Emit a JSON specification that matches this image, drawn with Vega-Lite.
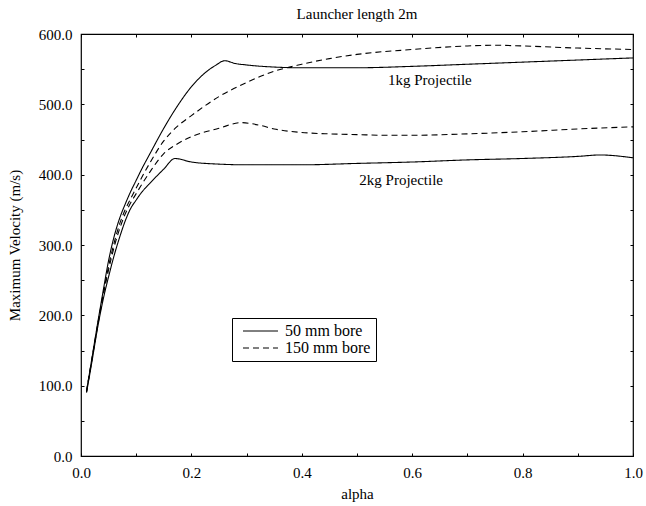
{
  "$schema": "https://vega.github.io/schema/vega-lite/v6.json",
  "width": 552,
  "height": 422,
  "autosize": {"type": "none"},
  "padding": {"left": 81, "top": 34, "right": 13, "bottom": 50},
  "background": "white",
  "title": {
    "text": "Launcher length 2m",
    "font": "Liberation Serif",
    "fontSize": 15,
    "fontWeight": "normal",
    "color": "black",
    "offset": 5
  },
  "config": {
    "view": {"stroke": "black", "strokeWidth": 1.2},
    "font": "Liberation Serif",
    "axis": {
      "domain": false,
      "grid": false,
      "ticks": true,
      "labelFont": "Liberation Serif",
      "labelFontSize": 15,
      "labelColor": "black",
      "tickColor": "black",
      "tickWidth": 1,
      "tickSize": -3,
      "titleFont": "Liberation Serif",
      "titleFontSize": 15,
      "titleFontWeight": "normal",
      "titleColor": "black"
    },
    "legend": {
      "labelFont": "Liberation Serif",
      "labelFontSize": 16,
      "labelColor": "black"
    }
  },
  "datasets": {
    "curves": [
      {"mass": "1kg", "bore": "50 mm bore", "alpha": 0.01, "velocity": 92},
      {"mass": "1kg", "bore": "50 mm bore", "alpha": 0.02, "velocity": 140},
      {"mass": "1kg", "bore": "50 mm bore", "alpha": 0.03, "velocity": 188},
      {"mass": "1kg", "bore": "50 mm bore", "alpha": 0.04, "velocity": 234},
      {"mass": "1kg", "bore": "50 mm bore", "alpha": 0.05, "velocity": 278},
      {"mass": "1kg", "bore": "50 mm bore", "alpha": 0.06, "velocity": 312},
      {"mass": "1kg", "bore": "50 mm bore", "alpha": 0.07, "velocity": 338},
      {"mass": "1kg", "bore": "50 mm bore", "alpha": 0.08, "velocity": 358},
      {"mass": "1kg", "bore": "50 mm bore", "alpha": 0.09, "velocity": 376},
      {"mass": "1kg", "bore": "50 mm bore", "alpha": 0.1, "velocity": 392},
      {"mass": "1kg", "bore": "50 mm bore", "alpha": 0.11, "velocity": 408},
      {"mass": "1kg", "bore": "50 mm bore", "alpha": 0.125, "velocity": 430},
      {"mass": "1kg", "bore": "50 mm bore", "alpha": 0.15, "velocity": 466},
      {"mass": "1kg", "bore": "50 mm bore", "alpha": 0.175, "velocity": 498},
      {"mass": "1kg", "bore": "50 mm bore", "alpha": 0.2, "velocity": 525},
      {"mass": "1kg", "bore": "50 mm bore", "alpha": 0.225, "velocity": 545},
      {"mass": "1kg", "bore": "50 mm bore", "alpha": 0.245, "velocity": 556},
      {"mass": "1kg", "bore": "50 mm bore", "alpha": 0.26, "velocity": 562},
      {"mass": "1kg", "bore": "50 mm bore", "alpha": 0.28, "velocity": 558},
      {"mass": "1kg", "bore": "50 mm bore", "alpha": 0.3, "velocity": 556},
      {"mass": "1kg", "bore": "50 mm bore", "alpha": 0.35, "velocity": 553},
      {"mass": "1kg", "bore": "50 mm bore", "alpha": 0.4, "velocity": 552},
      {"mass": "1kg", "bore": "50 mm bore", "alpha": 0.5, "velocity": 552},
      {"mass": "1kg", "bore": "50 mm bore", "alpha": 0.6, "velocity": 554},
      {"mass": "1kg", "bore": "50 mm bore", "alpha": 0.7, "velocity": 557},
      {"mass": "1kg", "bore": "50 mm bore", "alpha": 0.8, "velocity": 560},
      {"mass": "1kg", "bore": "50 mm bore", "alpha": 0.9, "velocity": 563},
      {"mass": "1kg", "bore": "50 mm bore", "alpha": 1.0, "velocity": 566},

      {"mass": "2kg", "bore": "50 mm bore", "alpha": 0.01, "velocity": 90},
      {"mass": "2kg", "bore": "50 mm bore", "alpha": 0.02, "velocity": 135},
      {"mass": "2kg", "bore": "50 mm bore", "alpha": 0.03, "velocity": 182},
      {"mass": "2kg", "bore": "50 mm bore", "alpha": 0.04, "velocity": 222},
      {"mass": "2kg", "bore": "50 mm bore", "alpha": 0.05, "velocity": 255},
      {"mass": "2kg", "bore": "50 mm bore", "alpha": 0.06, "velocity": 285},
      {"mass": "2kg", "bore": "50 mm bore", "alpha": 0.07, "velocity": 311},
      {"mass": "2kg", "bore": "50 mm bore", "alpha": 0.08, "velocity": 334},
      {"mass": "2kg", "bore": "50 mm bore", "alpha": 0.09, "velocity": 352},
      {"mass": "2kg", "bore": "50 mm bore", "alpha": 0.1, "velocity": 364},
      {"mass": "2kg", "bore": "50 mm bore", "alpha": 0.11, "velocity": 375},
      {"mass": "2kg", "bore": "50 mm bore", "alpha": 0.125, "velocity": 388},
      {"mass": "2kg", "bore": "50 mm bore", "alpha": 0.15, "velocity": 408},
      {"mass": "2kg", "bore": "50 mm bore", "alpha": 0.17, "velocity": 423},
      {"mass": "2kg", "bore": "50 mm bore", "alpha": 0.2, "velocity": 418},
      {"mass": "2kg", "bore": "50 mm bore", "alpha": 0.25, "velocity": 415},
      {"mass": "2kg", "bore": "50 mm bore", "alpha": 0.3, "velocity": 414},
      {"mass": "2kg", "bore": "50 mm bore", "alpha": 0.4, "velocity": 414},
      {"mass": "2kg", "bore": "50 mm bore", "alpha": 0.5, "velocity": 416},
      {"mass": "2kg", "bore": "50 mm bore", "alpha": 0.6, "velocity": 418},
      {"mass": "2kg", "bore": "50 mm bore", "alpha": 0.7, "velocity": 421},
      {"mass": "2kg", "bore": "50 mm bore", "alpha": 0.8, "velocity": 423},
      {"mass": "2kg", "bore": "50 mm bore", "alpha": 0.9, "velocity": 426},
      {"mass": "2kg", "bore": "50 mm bore", "alpha": 0.94, "velocity": 428},
      {"mass": "2kg", "bore": "50 mm bore", "alpha": 1.0, "velocity": 424},

      {"mass": "1kg", "bore": "150 mm bore", "alpha": 0.01, "velocity": 92},
      {"mass": "1kg", "bore": "150 mm bore", "alpha": 0.02, "velocity": 139},
      {"mass": "1kg", "bore": "150 mm bore", "alpha": 0.03, "velocity": 186},
      {"mass": "1kg", "bore": "150 mm bore", "alpha": 0.04, "velocity": 230},
      {"mass": "1kg", "bore": "150 mm bore", "alpha": 0.05, "velocity": 270},
      {"mass": "1kg", "bore": "150 mm bore", "alpha": 0.06, "velocity": 303},
      {"mass": "1kg", "bore": "150 mm bore", "alpha": 0.07, "velocity": 330},
      {"mass": "1kg", "bore": "150 mm bore", "alpha": 0.08, "velocity": 350},
      {"mass": "1kg", "bore": "150 mm bore", "alpha": 0.09, "velocity": 366},
      {"mass": "1kg", "bore": "150 mm bore", "alpha": 0.1, "velocity": 381},
      {"mass": "1kg", "bore": "150 mm bore", "alpha": 0.11, "velocity": 396},
      {"mass": "1kg", "bore": "150 mm bore", "alpha": 0.125, "velocity": 417},
      {"mass": "1kg", "bore": "150 mm bore", "alpha": 0.15, "velocity": 448},
      {"mass": "1kg", "bore": "150 mm bore", "alpha": 0.175, "velocity": 469},
      {"mass": "1kg", "bore": "150 mm bore", "alpha": 0.2, "velocity": 484},
      {"mass": "1kg", "bore": "150 mm bore", "alpha": 0.25, "velocity": 511},
      {"mass": "1kg", "bore": "150 mm bore", "alpha": 0.3, "velocity": 531},
      {"mass": "1kg", "bore": "150 mm bore", "alpha": 0.35, "velocity": 547},
      {"mass": "1kg", "bore": "150 mm bore", "alpha": 0.4, "velocity": 557},
      {"mass": "1kg", "bore": "150 mm bore", "alpha": 0.45, "velocity": 565},
      {"mass": "1kg", "bore": "150 mm bore", "alpha": 0.5, "velocity": 571},
      {"mass": "1kg", "bore": "150 mm bore", "alpha": 0.6, "velocity": 578},
      {"mass": "1kg", "bore": "150 mm bore", "alpha": 0.7, "velocity": 583},
      {"mass": "1kg", "bore": "150 mm bore", "alpha": 0.75, "velocity": 584},
      {"mass": "1kg", "bore": "150 mm bore", "alpha": 0.8, "velocity": 583},
      {"mass": "1kg", "bore": "150 mm bore", "alpha": 0.9, "velocity": 580},
      {"mass": "1kg", "bore": "150 mm bore", "alpha": 1.0, "velocity": 578},

      {"mass": "2kg", "bore": "150 mm bore", "alpha": 0.01, "velocity": 91},
      {"mass": "2kg", "bore": "150 mm bore", "alpha": 0.02, "velocity": 138},
      {"mass": "2kg", "bore": "150 mm bore", "alpha": 0.03, "velocity": 184},
      {"mass": "2kg", "bore": "150 mm bore", "alpha": 0.04, "velocity": 227},
      {"mass": "2kg", "bore": "150 mm bore", "alpha": 0.05, "velocity": 265},
      {"mass": "2kg", "bore": "150 mm bore", "alpha": 0.06, "velocity": 297},
      {"mass": "2kg", "bore": "150 mm bore", "alpha": 0.07, "velocity": 323},
      {"mass": "2kg", "bore": "150 mm bore", "alpha": 0.08, "velocity": 344},
      {"mass": "2kg", "bore": "150 mm bore", "alpha": 0.09, "velocity": 360},
      {"mass": "2kg", "bore": "150 mm bore", "alpha": 0.1, "velocity": 373},
      {"mass": "2kg", "bore": "150 mm bore", "alpha": 0.11, "velocity": 386},
      {"mass": "2kg", "bore": "150 mm bore", "alpha": 0.125, "velocity": 404},
      {"mass": "2kg", "bore": "150 mm bore", "alpha": 0.15, "velocity": 430},
      {"mass": "2kg", "bore": "150 mm bore", "alpha": 0.175, "velocity": 444},
      {"mass": "2kg", "bore": "150 mm bore", "alpha": 0.2, "velocity": 454},
      {"mass": "2kg", "bore": "150 mm bore", "alpha": 0.25, "velocity": 466},
      {"mass": "2kg", "bore": "150 mm bore", "alpha": 0.29, "velocity": 474},
      {"mass": "2kg", "bore": "150 mm bore", "alpha": 0.325, "velocity": 470},
      {"mass": "2kg", "bore": "150 mm bore", "alpha": 0.35, "velocity": 465},
      {"mass": "2kg", "bore": "150 mm bore", "alpha": 0.4, "velocity": 460},
      {"mass": "2kg", "bore": "150 mm bore", "alpha": 0.45, "velocity": 458},
      {"mass": "2kg", "bore": "150 mm bore", "alpha": 0.5, "velocity": 457},
      {"mass": "2kg", "bore": "150 mm bore", "alpha": 0.55, "velocity": 456},
      {"mass": "2kg", "bore": "150 mm bore", "alpha": 0.6, "velocity": 456},
      {"mass": "2kg", "bore": "150 mm bore", "alpha": 0.7, "velocity": 458},
      {"mass": "2kg", "bore": "150 mm bore", "alpha": 0.8, "velocity": 461},
      {"mass": "2kg", "bore": "150 mm bore", "alpha": 0.9, "velocity": 465},
      {"mass": "2kg", "bore": "150 mm bore", "alpha": 1.0, "velocity": 468}
    ],
    "notes": [
      {"label": "1kg Projectile", "alpha": 0.632, "velocity": 535},
      {"label": "2kg Projectile", "alpha": 0.58, "velocity": 392}
    ]
  },
  "resolve": {"axis": {"x": "independent", "y": "independent"}},
  "layer": [
    {
      "data": {"name": "curves"},
      "mark": {"type": "line", "color": "black", "strokeWidth": 1.1, "interpolate": "monotone"},
      "encoding": {
        "x": {
          "field": "alpha",
          "type": "quantitative",
          "scale": {"domain": [0, 1], "nice": false, "zero": false},
          "axis": {
            "orient": "bottom",
            "title": "alpha",
            "values": [0, 0.1, 0.2, 0.3, 0.4, 0.5, 0.6, 0.7, 0.8, 0.9, 1.0],
            "labelExpr": "round(datum.value * 10) % 2 === 0 ? format(datum.value, '.1f') : ''",
            "tickSize": -3,
            "labelPadding": 12,
            "labelFlush": false,
            "labelOverlap": false,
            "titlePadding": 6
          }
        },
        "y": {
          "field": "velocity",
          "type": "quantitative",
          "scale": {"domain": [0, 600], "nice": false},
          "axis": {
            "orient": "left",
            "title": "Maximum Velocity (m/s)",
            "values": [0, 50, 100, 150, 200, 250, 300, 350, 400, 450, 500, 550, 600],
            "labelExpr": "datum.value % 100 === 0 ? format(datum.value, '.1f') : ''",
            "tickSize": -3,
            "labelPadding": 12,
            "labelFlush": false,
            "labelOverlap": false,
            "titlePadding": 16
          }
        },
        "detail": {"field": "mass", "type": "nominal"},
        "strokeDash": {
          "field": "bore",
          "type": "nominal",
          "scale": {"domain": ["50 mm bore", "150 mm bore"], "range": [[1, 0], [6, 4]]},
          "legend": {
            "title": null,
            "orient": "none",
            "legendX": 151,
            "legendY": 284,
            "padding": 5,
            "rowPadding": 1,
            "strokeColor": "black",
            "fillColor": "white",
            "symbolType": "M-0.2857,0H4.714",
            "symbolStrokeColor": "black",
            "symbolStrokeWidth": 1,
            "symbolSize": 196,
            "labelOffset": 32
          }
        }
      }
    },
    {
      "data": {"name": "notes"},
      "mark": {"type": "text", "font": "Liberation Serif", "fontSize": 15, "color": "black", "align": "center", "baseline": "middle"},
      "encoding": {
        "x": {
          "field": "alpha",
          "type": "quantitative",
          "axis": {
            "orient": "top",
            "title": null,
            "labels": false,
            "values": [0, 0.1, 0.2, 0.3, 0.4, 0.5, 0.6, 0.7, 0.8, 0.9, 1.0],
            "tickSize": -3
          }
        },
        "y": {
          "field": "velocity",
          "type": "quantitative",
          "axis": {
            "orient": "right",
            "title": null,
            "labels": false,
            "values": [0, 50, 100, 150, 200, 250, 300, 350, 400, 450, 500, 550, 600],
            "tickSize": -3
          }
        },
        "text": {"field": "label", "type": "nominal"}
      }
    }
  ]
}
